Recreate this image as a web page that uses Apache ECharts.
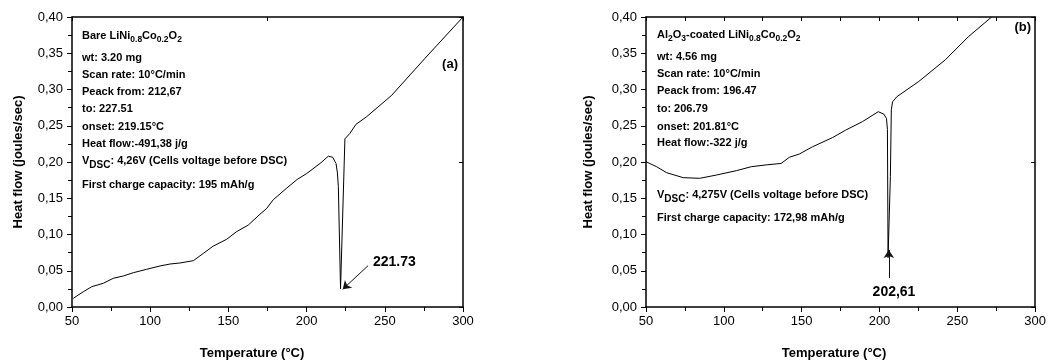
<!DOCTYPE html>
<html>
<head>
<meta charset="utf-8">
<script src="https://cdn.jsdelivr.net/npm/echarts@6/dist/echarts.min.js"></script>
<style>
  html, body { margin: 0; padding: 0; background: #fff; }
  #chart { width: 1049px; height: 361px; }
</style>
</head>
<body>
<div id="chart"></div>
<script>
// bare LiNi0.8Co0.2O2 curve (a)
const bareTemp = [50.8, 57.2, 62.6, 70, 76.4, 82.8, 89.2, 97.7, 106.3, 112.7, 119, 127.6, 134, 140.3, 148.9, 155.3, 162.7, 170.2, 174.5, 178.7, 187.3, 194, 200, 208.6, 213.9, 216.7, 218.8, 219.7, 220.3, 221.7, 224.5, 227.7, 231.6, 238.4, 254.4, 275.7, 300];
const bareFlow = [0.012, 0.021, 0.028, 0.0327, 0.0396, 0.0428, 0.0473, 0.052, 0.0566, 0.0593, 0.0607, 0.0639, 0.074, 0.084, 0.0934, 0.104, 0.113, 0.128, 0.136, 0.148, 0.164, 0.176, 0.184, 0.198, 0.208, 0.2065, 0.198, 0.185, 0.166, 0.025, 0.232, 0.2395, 0.252, 0.2625, 0.292, 0.343, 0.40];

// Al2O3-coated curve (b)
const coatedTemp = [50, 56.8, 63.2, 73.9, 84.5, 95.2, 108, 117.6, 127.2, 136.8, 142.1, 148.5, 157, 169.8, 178.3, 189, 199.2, 202.8, 204.5, 205.1, 205.5, 207.0, 207.6, 208.4, 211.1, 225.2, 242.3, 257.2, 272];
const coatedFlow = [0.2004, 0.1935, 0.1853, 0.1784, 0.1775, 0.182, 0.188, 0.1935, 0.196, 0.198, 0.2065, 0.211, 0.221, 0.2336, 0.244, 0.2556, 0.2694, 0.266, 0.26, 0.245, 0.068, 0.18, 0.272, 0.283, 0.29, 0.311, 0.341, 0.373, 0.40];

// peak arrows [from, to] in data units
const bareArrow = [[239.3, 0.057], [223.1, 0.0244]];
const coatedArrow = [[206, 0.040], [206, 0.0786]];

const bareInfo = ["wt: 3.20 mg", "Scan rate: 10°C/min", "Peack from: 212,67", "to: 227.51", "onset: 219.15°C", "Heat flow:-491,38 j/g"];
const coatedInfo = ["wt: 4.56 mg", "Scan rate: 10°C/min", "Peack from: 196.47", "to: 206.79", "onset: 201.81°C", "Heat flow:-322 j/g"];

const font = "'Liberation Sans', Arial, sans-serif";

function plainText(x, y, text, size, align) {
  return {
    type: "text", x: x, y: y, silent: true,
    style: { text: text, fontSize: size || 11, fontWeight: "bold", fontFamily: font, fill: "#000", verticalAlign: "middle", align: align || "left" }
  };
}

// n: normal text raised, s/d: subscripts lowered
const richStyles = {
  n: { fontSize: 11, fontWeight: "bold", fontFamily: font, fill: "#000", padding: [0, 0, 4, 0] },
  s: { fontSize: 8.5, fontWeight: "bold", fontFamily: font, fill: "#000", padding: [4, 0, 0, 0] },
  d: { fontSize: 10, fontWeight: "bold", fontFamily: font, fill: "#000", padding: [4, 0, 0, 0] }
};

function richText(x, y, text) {
  return {
    type: "text", x: x, y: y, silent: true,
    style: { text: text, rich: richStyles, fontFamily: font, fill: "#000", verticalAlign: "middle" }
  };
}

const infoYa = [58, 75, 92, 109, 127, 144];
const infoYb = [57, 74, 91, 109, 127, 143];

const graphics = [
  richText(82, 38, "{n|Bare LiNi}{s|0.8}{n|Co}{s|0.2}{n|O}{s|2}"),
  richText(82, 163, "{n|V}{d|DSC}{n|: 4,26V (Cells voltage before DSC)}"),
  plainText(82, 185, "First charge capacity: 195 mAh/g"),
  richText(657, 37, "{n|Al}{s|2}{n|O}{s|3}{n|-coated LiNi}{s|0.8}{n|Co}{s|0.2}{n|O}{s|2}"),
  richText(657, 197, "{n|V}{d|DSC}{n|: 4,275V (Cells voltage before DSC)}"),
  plainText(657, 218, "First charge capacity: 172,98 mAh/g"),
  plainText(458, 64, "(a)", 13, "right"),
  plainText(1031, 27, "(b)", 13, "right"),
  plainText(373, 262, "221.73", 14),
  plainText(894, 292, "202,61", 14, "center")
];
bareInfo.forEach((t, i) => graphics.push(plainText(82, infoYa[i], t)));
coatedInfo.forEach((t, i) => graphics.push(plainText(657, infoYb[i], t)));

// axis titles
[[252, 18], [834, 588]].forEach(([xc, yc]) => {
  graphics.push({
    type: "text", x: xc, y: 353, silent: true,
    style: { text: "Temperature (°C)", fontSize: 13, fontWeight: "bold", fontFamily: font, fill: "#000", align: "center", verticalAlign: "middle" }
  });
  graphics.push({
    type: "text", x: yc, y: 162, rotation: Math.PI / 2, silent: true,
    style: { text: "Heat flow (joules/sec)", fontSize: 13, fontWeight: "bold", fontFamily: font, fill: "#000", align: "center", verticalAlign: "middle" }
  });
});

const axisLine = { show: true, onZero: false, lineStyle: { color: "#000", width: 1.5 } };
const labelStyle = { color: "#000", fontSize: 13, fontFamily: font };

function bottomAxis(grid) {
  return {
    type: "value", gridIndex: grid, position: "bottom", min: 50, max: 300, interval: 50,
    axisLine: axisLine, splitLine: { show: false },
    axisTick: { show: true, inside: false, length: 5, lineStyle: { color: "#000", width: 1 } },
    minorTick: { show: true, splitNumber: 2, length: 4, lineStyle: { color: "#000", width: 1 } },
    axisLabel: Object.assign({ margin: 8 }, labelStyle)
  };
}
function topAxis(grid, interval) {
  return {
    type: "value", gridIndex: grid, position: "top", min: 50, max: 300, interval: interval,
    axisLine: axisLine, splitLine: { show: false },
    axisTick: { show: true, inside: true, length: 4, lineStyle: { color: "#000", width: 1 } },
    axisLabel: { show: false }
  };
}
function leftAxis(grid) {
  return {
    type: "value", gridIndex: grid, position: "left", min: 0, max: 0.4, interval: 0.05,
    axisLine: axisLine, splitLine: { show: false },
    axisTick: { show: true, inside: false, length: 5, lineStyle: { color: "#000", width: 1 } },
    minorTick: { show: true, splitNumber: 2, length: 4, lineStyle: { color: "#000", width: 1 } },
    axisLabel: Object.assign({ margin: 9, formatter: v => v.toFixed(2).replace(".", ",") }, labelStyle)
  };
}
function rightAxis(grid) {
  return {
    type: "value", gridIndex: grid, position: "right", min: 0, max: 0.4, interval: 0.2,
    axisLine: axisLine, splitLine: { show: false },
    axisTick: { show: true, inside: true, length: 4, lineStyle: { color: "#000", width: 1 } },
    axisLabel: { show: false }
  };
}

function curve(temps, flows, xi, yi, arrow) {
  return {
    type: "line", xAxisIndex: xi, yAxisIndex: yi,
    data: temps.map((t, i) => [t, flows[i]]),
    showSymbol: false, symbol: "none", clip: true,
    lineStyle: { color: "#000", width: 1 },
    markLine: {
      silent: true, animation: false,
      symbol: ["none", "arrow"], symbolSize: 8,
      label: { show: false },
      lineStyle: { color: "#111", width: 1, type: "solid" },
      data: [[{ coord: arrow[0] }, { coord: arrow[1] }]]
    }
  };
}

const chart = echarts.init(document.getElementById("chart"));
chart.setOption({
  animation: false,
  backgroundColor: "#fff",
  grid: [
    { left: 72, top: 17, width: 391, height: 290 },
    { left: 646, top: 17, width: 391, height: 290 }
  ],
  xAxis: [bottomAxis(0), topAxis(0, 125), bottomAxis(1), topAxis(1, 25)],
  yAxis: [leftAxis(0), rightAxis(0), leftAxis(1), rightAxis(1)],
  series: [
    curve(bareTemp, bareFlow, 0, 0, bareArrow),
    curve(coatedTemp, coatedFlow, 2, 2, coatedArrow)
  ],
  graphic: graphics
});
</script>
</body>
</html>
